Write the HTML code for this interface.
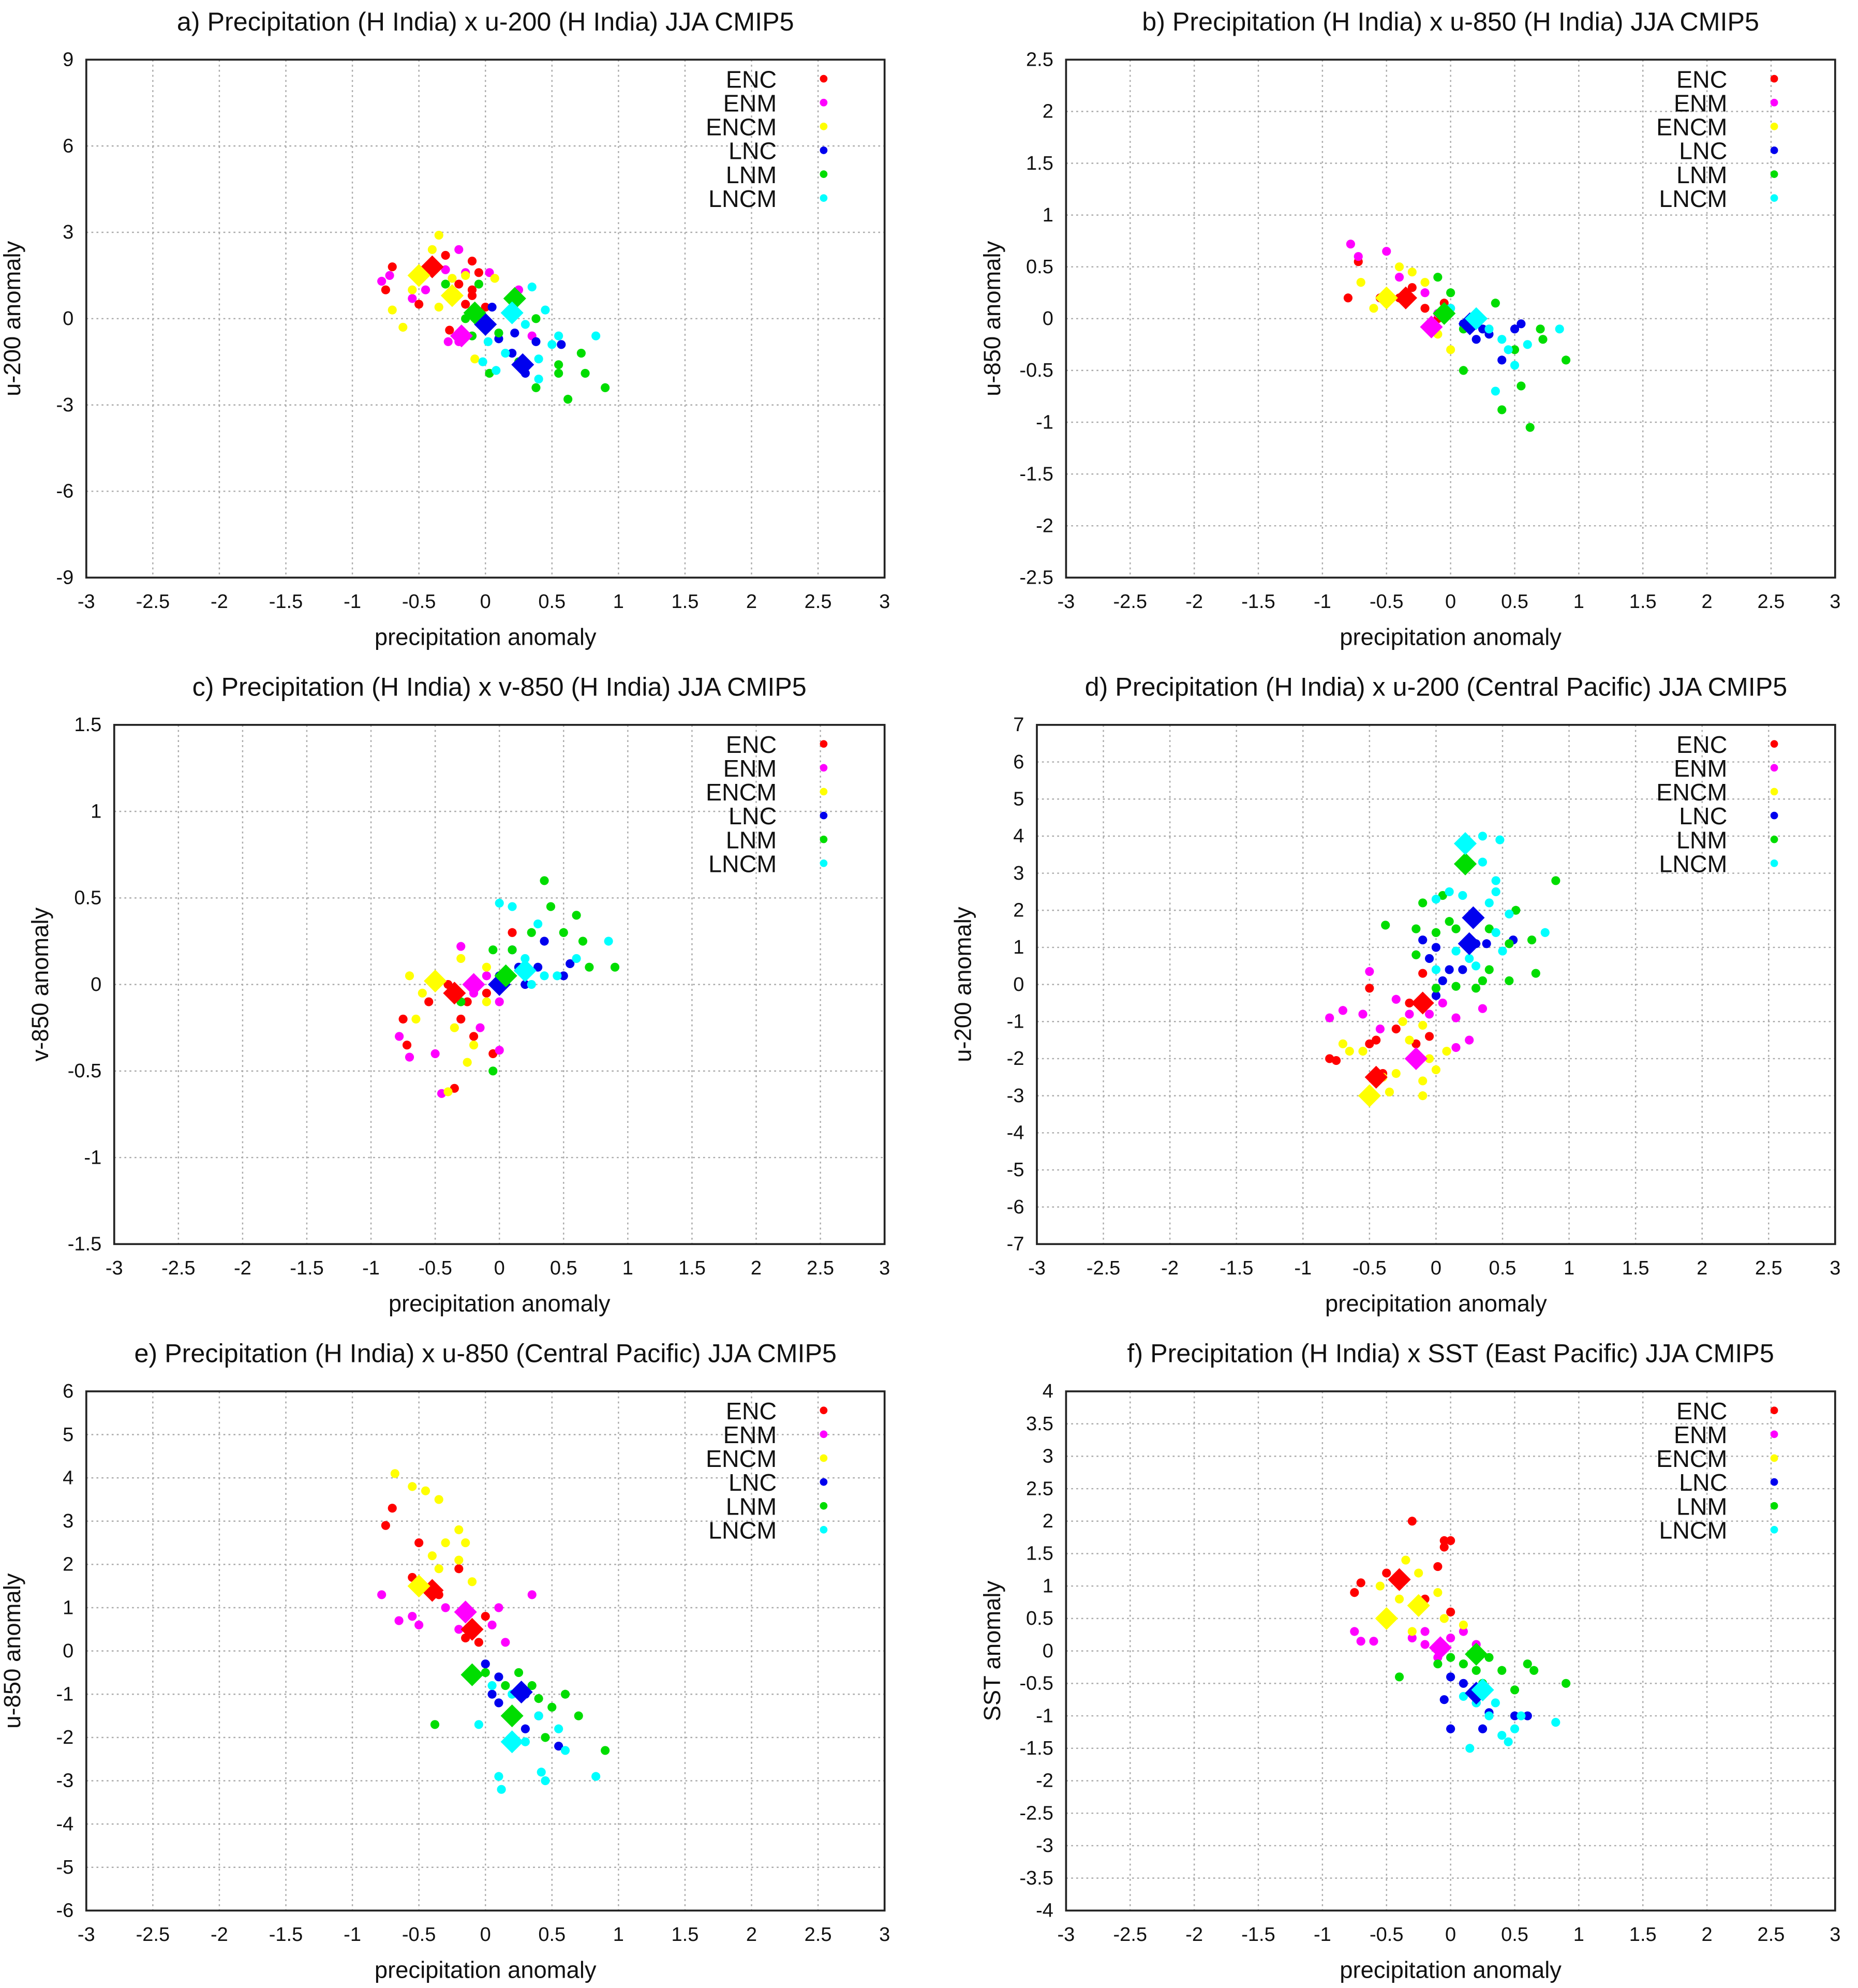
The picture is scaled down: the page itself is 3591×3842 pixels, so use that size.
<!DOCTYPE html>
<html><head><meta charset="utf-8"><style>
html,body{margin:0;padding:0;background:#fff}
svg{display:block}
text{font-family:"Liberation Sans",sans-serif;fill:#111}
</style></head><body>
<svg id="fig" width="3591" height="3842" viewBox="0 0 1464 1566" preserveAspectRatio="none" xmlns="http://www.w3.org/2000/svg"></svg>
<script>
const seriesNames=["ENC","ENM","ENCM","LNC","LNM","LNCM"];
const seriesColors=["#ff0000","#ff00ff","#ffff00","#0000ee","#00dd00","#00ffff"];
// Panel a
const a_ENC=[[-0.75,1.0],[-0.7,1.8],[-0.5,0.5],[-0.3,2.2],[-0.2,1.2],[-0.1,2.0],[-0.1,1.0],[-0.15,0.5],[-0.05,1.6],[0,0.4],[-0.27,-0.4],[-0.1,0.8]];
const a_ENM=[[-0.78,1.3],[-0.72,1.5],[-0.55,0.7],[-0.45,1.0],[-0.3,1.7],[-0.2,2.4],[-0.15,1.6],[0.03,1.6],[-0.28,-0.8],[-0.2,-0.8],[0.35,-0.6],[0.25,1.0]];
const a_ENCM=[[-0.7,0.3],[-0.62,-0.3],[-0.55,1.0],[-0.4,2.4],[-0.35,2.9],[-0.35,0.4],[-0.25,1.4],[-0.15,1.5],[0.07,1.4],[-0.08,-1.4],[-0.1,0.2]];
const a_LNC=[[0,-0.2],[0.05,0.4],[0.1,-0.7],[0.2,-1.2],[0.3,-1.9],[0.38,-0.8],[0.57,-0.9],[0.22,-0.5]];
const a_LNM=[[-0.3,1.2],[-0.05,1.2],[-0.15,0],[-0.1,-0.6],[0.03,-1.9],[0.25,-1.5],[0.38,0],[0.38,-2.4],[0.55,-1.6],[0.55,-1.9],[0.72,-1.2],[0.75,-1.9],[0.62,-2.8],[0.9,-2.4],[0.1,-0.5]];
const a_LNCM=[[0.35,1.1],[0.45,0.3],[0.55,-0.6],[0.5,-0.9],[0.83,-0.6],[0.4,-2.1],[0.4,-1.4],[-0.02,-1.5],[0.08,-1.8],[0.15,-1.2],[0.3,-0.2],[0.02,-0.8]];
const a_means=[[[-0.4,1.8]],[[-0.18,-0.6]],[[-0.5,1.5],[-0.25,0.8]],[[0.28,-1.6],[0,-0.2]],[[0.22,0.7],[-0.08,0.2]],[[0.2,0.2]]];
// Panel b
const b_ENC=[[-0.8,0.2],[-0.72,0.55],[-0.55,0.2],[-0.4,0.2],[-0.3,0.3],[-0.2,0.1],[-0.1,0.0],[-0.05,0.15]];
const b_ENM=[[-0.78,0.72],[-0.72,0.6],[-0.5,0.65],[-0.4,0.4],[-0.2,0.25],[-0.1,0.05],[0,0.1],[0.15,-0.1]];
const b_ENCM=[[-0.7,0.35],[-0.6,0.1],[-0.5,0.15],[-0.4,0.5],[-0.3,0.45],[-0.2,0.35],[0,-0.3],[-0.1,-0.15]];
const b_LNC=[[0.1,-0.05],[0.2,-0.2],[0.3,-0.15],[0.4,-0.4],[0.5,-0.1],[0.55,-0.05],[0.25,-0.1]];
const b_LNM=[[-0.1,0.4],[0.0,0.25],[0.1,-0.5],[0.35,0.15],[0.5,-0.3],[0.55,-0.65],[0.62,-1.05],[0.7,-0.1],[0.72,-0.2],[0.9,-0.4],[0.4,-0.88],[0.1,-0.1]];
const b_LNCM=[[0,0.1],[0.2,0],[0.3,-0.1],[0.35,-0.7],[0.45,-0.3],[0.5,-0.45],[0.6,-0.25],[0.85,-0.1],[0.4,-0.2]];
const b_means=[[[-0.35,0.2]],[[-0.15,-0.08]],[[-0.5,0.2]],[[0.15,-0.05]],[[-0.05,0.05]],[[0.2,0.0]]];
// Panel c
const c_ENC=[[-0.75,-0.2],[-0.72,-0.35],[-0.55,-0.1],[-0.4,0],[-0.35,-0.6],[-0.3,-0.2],[-0.25,-0.1],[-0.2,-0.3],[-0.05,-0.4],[0.1,0.3],[-0.1,-0.05]];
const c_ENM=[[-0.78,-0.3],[-0.7,-0.42],[-0.5,-0.4],[-0.45,-0.63],[-0.3,0.22],[-0.2,-0.05],[-0.1,0.05],[0,-0.1],[-0.15,-0.25],[0,-0.38]];
const c_ENCM=[[-0.7,0.05],[-0.65,-0.2],[-0.6,-0.05],[-0.4,-0.62],[-0.35,-0.25],[-0.25,-0.45],[-0.2,-0.35],[-0.1,-0.1],[-0.3,0.15],[-0.1,0.1]];
const c_LNC=[[0,0.05],[0.1,0.2],[0.3,0.1],[0.35,0.25],[0.5,0.05],[0.55,0.12],[0.2,0.0],[0.15,0.1]];
const c_LNM=[[-0.3,-0.1],[-0.05,0.2],[0.1,0.2],[0.25,0.3],[0.35,0.6],[0.4,0.45],[0.5,0.3],[0.6,0.4],[0.7,0.1],[0.9,0.1],[0.65,0.25],[-0.05,-0.5]];
const c_LNCM=[[0,0.47],[0.1,0.45],[0.3,0.35],[0.35,0.05],[0.45,0.05],[0.6,0.15],[0.85,0.25],[0.2,0.15],[0.25,0.0]];
const c_means=[[[-0.35,-0.05]],[[-0.2,0]],[[-0.5,0.02]],[[0,0]],[[0.05,0.05]],[[0.2,0.08]]];
// Panel d
const d_ENC=[[-0.8,-2.0],[-0.75,-2.05],[-0.5,-1.6],[-0.5,-0.1],[-0.45,-1.5],[-0.3,-1.2],[-0.2,-0.5],[-0.1,-0.4],[-0.05,-1.4],[-0.1,0.3],[-0.15,-1.6],[-0.4,-2.4]];
const d_ENM=[[-0.8,-0.9],[-0.7,-0.7],[-0.55,-0.8],[-0.5,0.35],[-0.42,-1.2],[-0.3,-0.4],[-0.2,-0.8],[-0.05,-0.8],[0.15,-1.7],[0.25,-1.5],[0.35,-0.65],[0.05,-0.5],[0.15,-0.9]];
const d_ENCM=[[-0.7,-1.6],[-0.65,-1.8],[-0.55,-1.8],[-0.4,-2.5],[-0.35,-2.9],[-0.3,-2.4],[-0.25,-1.0],[-0.2,-1.5],[-0.1,-2.6],[-0.05,-2.0],[0,-2.3],[0.08,-1.8],[-0.1,-3.0],[-0.1,-1.1]];
const d_LNC=[[-0.1,1.2],[0,1.0],[-0.05,0.7],[0.05,0.1],[0.1,0.4],[0.2,0.4],[0.3,1.1],[0.38,1.1],[0.58,1.2],[0.3,1.8],[0,-0.3]];
const d_LNM=[[-0.38,1.6],[-0.15,1.5],[-0.1,2.2],[0,1.4],[0.1,1.7],[0.05,2.4],[0.15,1.5],[0.4,1.5],[0.4,0.4],[0.3,-0.1],[0.35,0.1],[0.55,0.1],[0.6,2.0],[0.72,1.2],[0.75,0.3],[0.9,2.8],[0.55,1.1],[0.15,-0.05],[0,-0.1],[-0.15,0.8]];
const d_LNCM=[[0,2.3],[0.1,2.5],[0.2,2.4],[0.35,3.3],[0.35,4.0],[0.48,3.9],[0.45,2.8],[0.45,2.5],[0.4,2.2],[0.55,1.9],[0.45,1.4],[0.5,0.9],[0.82,1.4],[0.3,0.5],[0,0.4],[0.15,0.9],[0.25,0.7]];
const d_means=[[[-0.45,-2.5],[-0.1,-0.5]],[[-0.15,-2.0]],[[-0.5,-3.0]],[[0.28,1.8],[0.25,1.1]],[[0.22,3.25]],[[0.22,3.8]]];
// Panel e
const e_ENC=[[-0.75,2.9],[-0.7,3.3],[-0.55,1.7],[-0.5,2.5],[-0.35,1.3],[-0.2,1.9],[-0.1,0.5],[-0.15,0.3],[0,0.8],[-0.05,0.2]];
const e_ENM=[[-0.78,1.3],[-0.65,0.7],[-0.55,0.8],[-0.5,0.6],[-0.3,1.0],[-0.2,0.5],[-0.1,0.4],[0.05,0.6],[0.15,0.2],[0.35,1.3],[0.1,1.0]];
const e_ENCM=[[-0.68,4.1],[-0.55,3.8],[-0.45,3.7],[-0.35,3.5],[-0.3,2.5],[-0.2,2.8],[-0.15,2.5],[-0.35,1.9],[-0.1,1.6],[-0.2,2.1],[-0.4,2.2]];
const e_LNC=[[0,-0.3],[0.05,-1.0],[0.1,-0.6],[0.3,-1.8],[0.4,-1.5],[0.55,-2.2],[0.3,-1.0],[0.1,-1.2]];
const e_LNM=[[-0.38,-1.7],[-0.1,-0.6],[0,-0.5],[0.15,-0.8],[0.25,-0.5],[0.35,-0.8],[0.4,-1.1],[0.5,-1.3],[0.6,-1.0],[0.7,-1.5],[0.9,-2.3],[0.2,-2.2],[0.45,-2.0]];
const e_LNCM=[[-0.05,-1.7],[0.1,-2.9],[0.12,-3.2],[0.3,-2.1],[0.42,-2.8],[0.45,-3.0],[0.55,-1.8],[0.6,-2.3],[0.83,-2.9],[0.2,-1.0],[0.4,-1.5],[0.05,-0.8]];
const e_means=[[[-0.4,1.4],[-0.1,0.5]],[[-0.15,0.9]],[[-0.5,1.5]],[[0.27,-0.95]],[[-0.1,-0.55],[0.2,-1.5]],[[0.2,-2.1]]];
// Panel f
const f_ENC=[[-0.75,0.9],[-0.7,1.05],[-0.5,1.2],[-0.3,2.0],[-0.05,1.7],[0,1.7],[-0.1,1.3],[-0.05,1.6],[-0.2,0.8],[0,0.6]];
const f_ENM=[[-0.75,0.3],[-0.7,0.15],[-0.6,0.15],[-0.3,0.2],[-0.2,0.3],[-0.1,-0.1],[0,0.2],[0.1,0.3],[0.2,0.1],[-0.2,0.1]];
const f_ENCM=[[-0.55,1.0],[-0.4,0.8],[-0.35,1.4],[-0.25,1.2],[-0.1,0.9],[-0.05,0.5],[0.1,0.4],[-0.3,0.3]];
const f_LNC=[[-0.05,-0.75],[0,-0.4],[0.1,-0.5],[0.2,-0.8],[0.3,-0.95],[0.5,-1.0],[0.6,-1.0],[0,-1.2],[0.25,-1.2]];
const f_LNM=[[-0.4,-0.4],[-0.1,-0.2],[0,-0.1],[0.1,-0.2],[0.3,-0.1],[0.4,-0.3],[0.6,-0.2],[0.65,-0.3],[0.9,-0.5],[0.5,-0.6],[0.2,-0.3],[0.25,-0.5]];
const f_LNCM=[[0.1,-0.7],[0.15,-1.5],[0.3,-1.0],[0.4,-1.3],[0.5,-1.2],[0.45,-1.4],[0.55,-1.0],[0.82,-1.1],[0.2,-0.8],[0.35,-0.8]];
const f_means=[[[-0.4,1.1]],[[-0.08,0.05]],[[-0.5,0.5],[-0.25,0.7]],[[0.2,-0.65]],[[0.2,-0.05]],[[0.25,-0.6]]];

const xTicks=[-3,-2.5,-2,-1.5,-1,-0.5,0,0.5,1,1.5,2,2.5,3];
const panels=[
 {id:"a",title:"a) Precipitation (H India) x u-200 (H India) JJA CMIP5",ylab:"u-200 anomaly",box:[68,47,697,455],y:[-9,9],yt:[-9,-6,-3,0,3,6,9],s:[a_ENC,a_ENM,a_ENCM,a_LNC,a_LNM,a_LNCM],m:a_means},
 {id:"b",title:"b) Precipitation (H India) x u-850 (H India) JJA CMIP5",ylab:"u-850 anomaly",box:[840,47,1446,455],y:[-2.5,2.5],yt:[-2.5,-2,-1.5,-1,-0.5,0,0.5,1,1.5,2,2.5],s:[b_ENC,b_ENM,b_ENCM,b_LNC,b_LNM,b_LNCM],m:b_means},
 {id:"c",title:"c) Precipitation (H India) x v-850 (H India) JJA CMIP5",ylab:"v-850 anomaly",box:[90,571,697,980],y:[-1.5,1.5],yt:[-1.5,-1,-0.5,0,0.5,1,1.5],s:[c_ENC,c_ENM,c_ENCM,c_LNC,c_LNM,c_LNCM],m:c_means},
 {id:"d",title:"d) Precipitation (H India) x u-200 (Central Pacific) JJA CMIP5",ylab:"u-200 anomaly",box:[817,571,1446,980],y:[-7,7],yt:[-7,-6,-5,-4,-3,-2,-1,0,1,2,3,4,5,6,7],s:[d_ENC,d_ENM,d_ENCM,d_LNC,d_LNM,d_LNCM],m:d_means},
 {id:"e",title:"e) Precipitation (H India) x u-850 (Central Pacific) JJA CMIP5",ylab:"u-850 anomaly",box:[68,1096,697,1505],y:[-6,6],yt:[-6,-5,-4,-3,-2,-1,0,1,2,3,4,5,6],s:[e_ENC,e_ENM,e_ENCM,e_LNC,e_LNM,e_LNCM],m:e_means},
 {id:"f",title:"f) Precipitation (H India) x SST (East Pacific) JJA CMIP5",ylab:"SST anomaly",box:[840,1096,1446,1505],y:[-4,4],yt:[-4,-3.5,-3,-2.5,-2,-1.5,-1,-0.5,0,0.5,1,1.5,2,2.5,3,3.5,4],s:[f_ENC,f_ENM,f_ENCM,f_LNC,f_LNM,f_LNCM],m:f_means}
];
const NS="http://www.w3.org/2000/svg";
const svg=document.getElementById("fig");
function mk(tag,attrs,parent){const e=document.createElementNS(NS,tag);for(const k in attrs)e.setAttribute(k,attrs[k]);(parent||svg).appendChild(e);return e;}
panels.forEach(p=>{
 const [x0,y0,x1,y1]=p.box;
 const g=mk("g",{});
 
 
 const sx=v=>x0+(v+3)/6*(x1-x0);
 const sy=v=>y1-(v-p.y[0])/(p.y[1]-p.y[0])*(y1-y0);
 const cx=(x0+x1)/2;
 const t=mk("text",{x:cx,y:y0-23,"text-anchor":"middle","font-size":20.5},g);t.textContent=p.title;
 
 
 xTicks.forEach(v=>{const X=sx(v);
  if(v>-3&&v<3){const l=mk("line",{x1:X,y1:y0,x2:X,y2:y1,stroke:"#aaaaaa","stroke-width":1,"stroke-dasharray":"1.5,2.5"},g);
   
   }
  const tx=mk("text",{x:X,y:y1+24,"text-anchor":"middle","font-size":15.5},g);tx.textContent=String(v);
  
  
 });
 p.yt.forEach(v=>{const Y=sy(v);
  if(v>p.y[0]&&v<p.y[1]){const l=mk("line",{x1:x0,y1:Y,x2:x1,y2:Y,stroke:"#aaaaaa","stroke-width":1,"stroke-dasharray":"1.5,2.5"},g);
   
   }
  const ty=mk("text",{x:x0-10,y:Y+5,"text-anchor":"end","font-size":15.5},g);ty.textContent=String(v);
  
  
 });
 const r=mk("rect",{x:x0,y:y0,width:x1-x0,height:y1-y0,fill:"none",stroke:"#222","stroke-width":1.5},g);
 
 
 const xl=mk("text",{x:cx,y:y1+53,"text-anchor":"middle","font-size":18.5},g);xl.textContent="precipitation anomaly";
 
 
 const yx=x0-52, yy=(y0+y1)/2;
 const yl=mk("text",{x:yx,y:yy,"text-anchor":"middle","font-size":18.5,transform:`rotate(-90 ${yx} ${yy})`},g);yl.textContent=p.ylab;
 
 
 p.s.forEach((pts,i)=>{
  pts.forEach(q=>{const c=mk("circle",{cx:sx(q[0]),cy:sy(q[1]),r:3.5,fill:seriesColors[i]},g);
   
   });
 });
 p.m.forEach((ms,i)=>{ms.forEach(q=>{const X=sx(q[0]),Y=sy(q[1]),h=9;
  const d=mk("polygon",{points:`${X},${Y-h} ${X+h},${Y} ${X},${Y+h} ${X-h},${Y}`,fill:seriesColors[i]},g);
  
  });});
 seriesNames.forEach((n,i)=>{const Y=y0+15+18.8*i;
  const lt=mk("text",{x:x1-85,y:Y+7,"text-anchor":"end","font-size":19},g);lt.textContent=n;
  
  
  const lc=mk("circle",{cx:x1-48,cy:Y,r:3,fill:seriesColors[i]},g);
  
  
 });
});
</script>
</body></html>
